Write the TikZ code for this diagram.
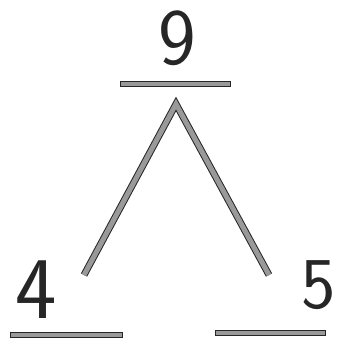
\documentclass[tikz,border=0pt]{standalone}
\begin{document}
\begin{tikzpicture}[x=1pt,y=-1pt,
  digit/.style={anchor=base, inner sep=0pt, text=black!85},
  bar/.style={draw=black!85, fill=black!40, line width=1pt, minimum height=5pt, inner sep=0pt},
  leg/.style={draw=black!85, line width=1pt, double=black!40, double distance=5pt, line join=miter}]
\useasboundingbox (0,0) rectangle (340,343);
\node[digit, font=\sffamily\fontsize{80}{80}\selectfont] (n9) at (177,64) {9};
\node[bar, minimum width=110pt] (b9) at (175,84) {};
\node[digit, font=\sffamily\fontsize{88}{88}\selectfont] (n4) at (36,318) {4};
\node[bar, minimum width=112pt] (b4) at (66,335) {};
\node[digit, font=\sffamily\fontsize{73}{73}\selectfont] (n5) at (319,308) {5};
\node[bar, minimum width=110pt] (b5) at (270,333) {};
\coordinate (apex) at (176,104);
\coordinate (lend) at (84,275);
\coordinate (rend) at (269,275);
\draw[leg] (lend) -- (apex) -- (rend);
\end{tikzpicture}
\end{document}
